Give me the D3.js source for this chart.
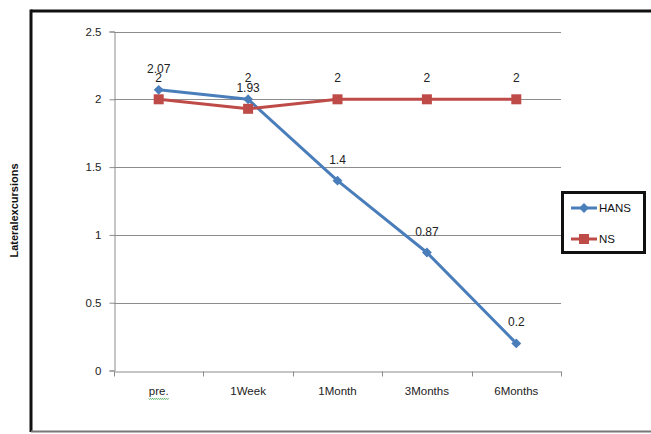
<!DOCTYPE html>
<html>
<head>
<meta charset="utf-8">
<script src="https://cdn.jsdelivr.net/npm/d3@7"></script>
<style>
  html, body { margin: 0; padding: 0; background: #fff; }
  svg { display: block; }
  text { font-family: "Liberation Sans", "DejaVu Sans", sans-serif; }
</style>
</head>
<body>
<svg id="chart" width="651" height="434"></svg>
<script>
// Follow-up time points
const categories = ["pre.", "1Week", "1Month", "3Months", "6Months"];
// Lateral excursions per group
const hansValues = [2.07, 2, 1.4, 0.87, 0.2];
const nsValues = [2, 1.93, 2, 2, 2];
// Value axis ticks
const yTicks = [0, 0.5, 1, 1.5, 2, 2.5];
const seriesNames = ["HANS", "NS"];
const seriesColors = ["#4A7EBB", "#BE4B48"];

const svg = d3.select("#chart");

// Outer frame
svg.append("line").attr("x1", 31).attr("x2", 651).attr("y1", 11).attr("y2", 11)
  .attr("stroke", "#111").attr("stroke-width", 3);
svg.append("line").attr("x1", 31).attr("x2", 31).attr("y1", 9.5).attr("y2", 432)
  .attr("stroke", "#111").attr("stroke-width", 3);
svg.append("line").attr("x1", 31).attr("x2", 651).attr("y1", 431.5).attr("y2", 431.5)
  .attr("stroke", "#777").attr("stroke-width", 2);

const plot = { left: 114, right: 561, top: 31.5, bottom: 370.5 };

const x = d3.scaleBand().domain(categories).range([plot.left, plot.right]);
const y = d3.scaleLinear().domain([0, 2.5]).range([plot.bottom, plot.top]);
const cx = d => x(d) + x.bandwidth() / 2;

// Horizontal gridlines
svg.append("g").selectAll("line").data(yTicks.filter(t => t > 0)).join("line")
  .attr("x1", plot.left).attr("x2", plot.right)
  .attr("y1", d => Math.round(y(d)) + 0.5).attr("y2", d => Math.round(y(d)) + 0.5)
  .attr("stroke", "#8c8c8c").attr("stroke-width", 1);

// Value axis
const yAxis = svg.append("g")
  .attr("transform", `translate(${plot.left + 0.5},0)`)
  .call(d3.axisLeft(y).tickValues(yTicks).tickSize(5).tickPadding(8).tickFormat(d3.format("")));
yAxis.select(".domain").attr("stroke", "#8c8c8c");
yAxis.selectAll(".tick line").attr("stroke", "#8c8c8c");
yAxis.selectAll(".tick text").attr("font-size", 11.5).attr("fill", "#222")
  .attr("font-family", "Liberation Sans, sans-serif");

// Category axis
const xAxis = svg.append("g")
  .attr("transform", `translate(0,${Math.round(plot.bottom) + 0.5})`)
  .call(d3.axisBottom(x).tickSize(5).tickSizeOuter(0).tickPadding(10));
xAxis.select(".domain").attr("stroke", "#8c8c8c");
xAxis.selectAll(".tick line").remove();
xAxis.selectAll(".tick text").attr("font-size", 11.5).attr("fill", "#222")
  .attr("font-family", "Liberation Sans, sans-serif");
// Category boundary tick marks
const bounds = categories.map(c => x(c)).concat([plot.right]);
xAxis.selectAll("line.bound").data(bounds).join("line").attr("class", "bound")
  .attr("x1", d => Math.round(d) + 0.5).attr("x2", d => Math.round(d) + 0.5)
  .attr("y1", 0).attr("y2", 5).attr("stroke", "#8c8c8c");

// Spell-check squiggle beneath the first category label
const preX = cx(categories[0]);
const wave = d3.range(0, 21).map(i => [preX - 10 + i, 398.5 + (i % 2 ? 1 : -0.2)]);
svg.append("path").attr("d", d3.line()(wave)).attr("fill", "none")
  .attr("stroke", "#3aa34a").attr("stroke-width", 0.8);

// Axis title
svg.append("text")
  .attr("transform", `translate(18,${(158 + 263) / 2}) rotate(-90)`)
  .attr("text-anchor", "middle").attr("font-size", 11).attr("font-weight", "bold")
  .attr("fill", "#111").text("Lateralexcursions");

const line = d3.line().x((d, i) => cx(categories[i])).y(d => y(d));
const allSeries = [hansValues, nsValues];

// Lines (HANS drawn first, NS on top)
allSeries.forEach((vals, s) => {
  svg.append("path").datum(vals).attr("d", line).attr("fill", "none")
    .attr("stroke", seriesColors[s]).attr("stroke-width", 3)
    .attr("stroke-linejoin", "round");
});

// Markers
const diamond = d3.symbol().type(d3.symbolDiamond2).size(62);
svg.append("g").selectAll("path").data(hansValues).join("path")
  .attr("d", diamond)
  .attr("transform", (d, i) => `translate(${cx(categories[i])},${y(d)})`)
  .attr("fill", seriesColors[0]);
svg.append("g").selectAll("rect").data(nsValues).join("rect")
  .attr("x", (d, i) => cx(categories[i]) - 5).attr("y", d => y(d) - 5)
  .attr("width", 10).attr("height", 10).attr("fill", seriesColors[1]);

// Data labels
allSeries.forEach(vals => {
  svg.append("g").selectAll("text").data(vals).join("text")
    .attr("x", (d, i) => cx(categories[i]))
    .attr("y", d => y(d) - 17)
    .attr("text-anchor", "middle").attr("font-size", 12).attr("fill", "#222")
    .text(d => d);
});

// Legend
const lg = svg.append("g");
lg.append("rect").attr("x", 562.5).attr("y", 192.5).attr("width", 82).attr("height", 60)
  .attr("fill", "#fff").attr("stroke", "#111").attr("stroke-width", 3);
seriesNames.forEach((name, s) => {
  const ly = 208 + s * 31;
  lg.append("line").attr("x1", 571).attr("x2", 597).attr("y1", ly).attr("y2", ly)
    .attr("stroke", seriesColors[s]).attr("stroke-width", 3);
  if (s === 0) {
    lg.append("path").attr("d", diamond).attr("transform", `translate(584,${ly})`)
      .attr("fill", seriesColors[s]);
  } else {
    lg.append("rect").attr("x", 579).attr("y", ly - 5).attr("width", 10).attr("height", 10)
      .attr("fill", seriesColors[s]);
  }
  lg.append("text").attr("x", 599).attr("y", ly + 4).attr("font-size", 11.5)
    .attr("fill", "#111").text(name);
});
</script>
</body>
</html>
